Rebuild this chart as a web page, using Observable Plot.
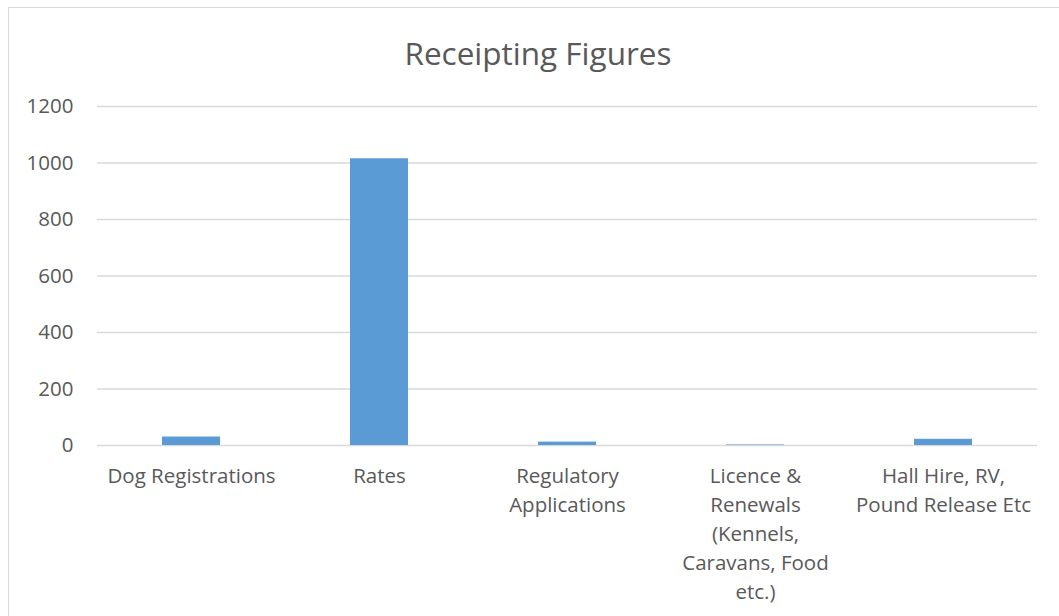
<!DOCTYPE html>
<html>
<head>
<meta charset="utf-8">
<script src="https://cdn.jsdelivr.net/npm/d3@7"></script>
<script src="https://cdn.jsdelivr.net/npm/@observablehq/plot@0.6"></script>
<style>
  html, body { margin: 0; padding: 0; background: #fff; overflow: hidden; }
  #wrap { position: relative; width: 1059px; height: 616px; }
  #frame { position: absolute; left: 8px; top: 7px; width: 1060px; height: 620px; border: 1px solid #d9d9d9; box-sizing: border-box; }
  #title { position: absolute; left: 0; width: 1076px; top: 33px; text-align: center; font-family: "Open Sans", sans-serif; font-size: 31.5px; line-height: 40px; color: #595959; }
  #chart { position: absolute; left: 0; top: 0; }
</style>
</head>
<body>
<div id="wrap">
  <div id="frame"></div>
  <div id="title">Receipting Figures</div>
  <div id="chart"></div>
</div>
<script>
const categories = [
  "Dog Registrations",
  "Rates",
  "Regulatory Applications",
  "Licence & Renewals (Kennels, Caravans, Food etc.)",
  "Hall Hire, RV, Pound Release Etc"
];
const categoryLabels = [
  "Dog Registrations",
  "Rates",
  "Regulatory\nApplications",
  "Licence &\nRenewals\n(Kennels,\nCaravans, Food\netc.)",
  "Hall Hire, RV,\nPound Release Etc"
];
const values = [30, 1015, 12, 2, 22];
const yTicks = [0, 200, 400, 600, 800, 1000, 1200];

const data = categories.map((c, i) => ({category: c, value: values[i]}));
const labelOf = new Map(categories.map((c, i) => [c, categoryLabels[i]]));

const chart = Plot.plot({
  width: 1059,
  height: 616,
  marginLeft: 97,
  marginRight: 22,
  marginTop: 106,
  marginBottom: 171,
  style: {fontFamily: "Open Sans, sans-serif", fontSize: "20.5px", color: "#595959", background: "transparent"},
  x: {domain: categories, paddingInner: 0.691, paddingOuter: 0.3455, label: null},
  y: {domain: [0, 1200], ticks: yTicks, label: null},
  marks: [
    Plot.gridY(yTicks, {stroke: "#d9d9d9", strokeOpacity: 1, strokeWidth: 1.3}),
    Plot.axisY(yTicks, {tickSize: 0, tickPadding: 24, fontSize: 20.5, fill: "#595959", label: null, tickFormat: d => String(d)}),
    Plot.axisX({tickSize: 0, tickPadding: 17, fontSize: 20.5, fill: "#595959", lineHeight: 1.41, label: null, tickFormat: d => labelOf.get(d)}),
    Plot.barY(data, {x: "category", y: "value", fill: "#5b9bd5"})
  ]
});
document.getElementById("chart").appendChild(chart);
</script>
</body>
</html>
